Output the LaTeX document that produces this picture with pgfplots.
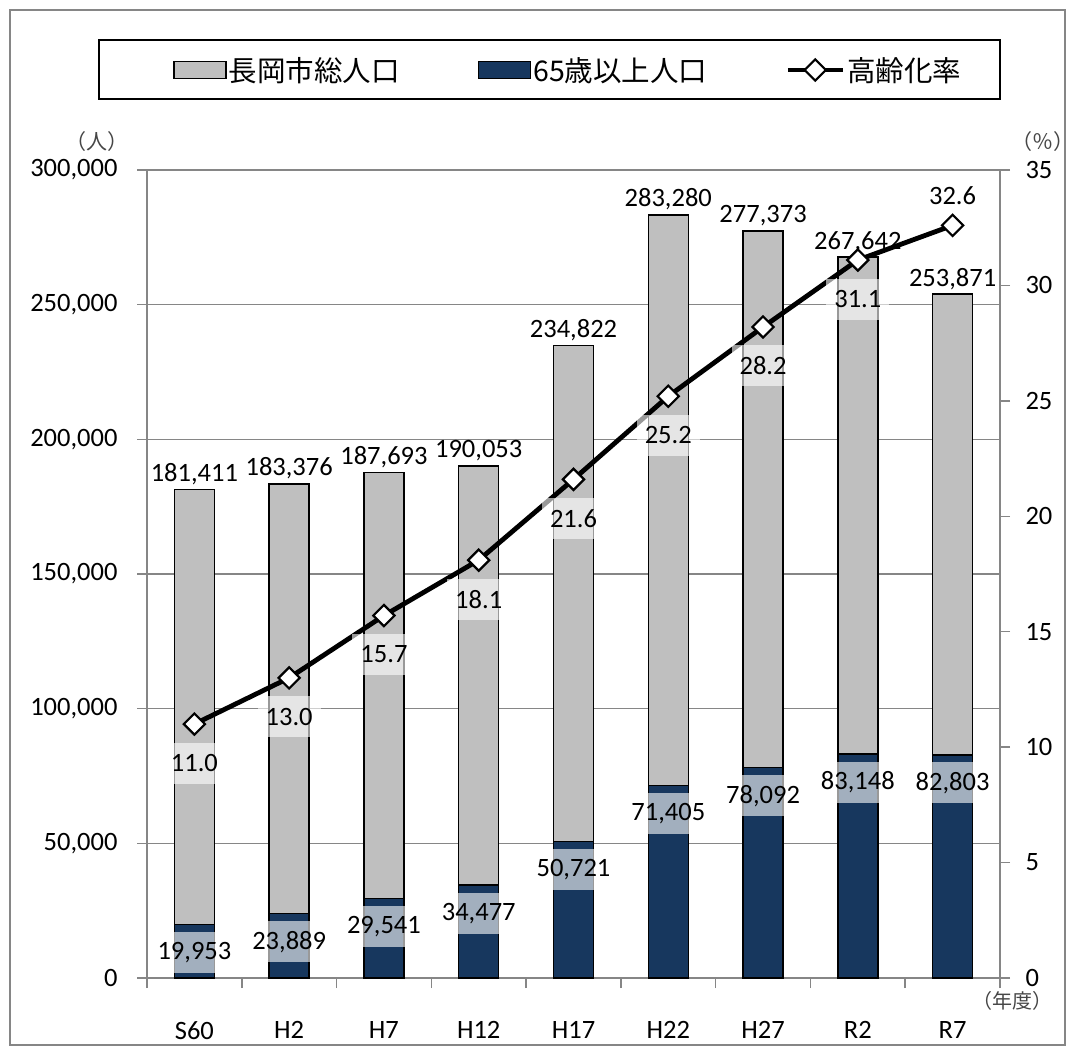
\documentclass[border=0pt]{standalone}
\usepackage{pgfplots}
\pgfplotsset{compat=1.18}
\usepackage{fontspec}
\setmainfont{Carlito}
\newfontfamily\jp{Noto Sans CJK JP}
\definecolor{barGray}{RGB}{191,191,191}
\definecolor{navy}{RGB}{23,55,94}
\definecolor{gridGray}{RGB}{134,134,134}
\definecolor{unitGray}{RGB}{70,70,70}
\newcommand{\tickfont}{\fontsize{26.5}{30}\selectfont}
\begin{document}
\begin{tikzpicture}[x=1pt,y=1pt]
\useasboundingbox (0,0) rectangle (1075,1055);
\fill[white] (0,0) rectangle (1075,1055);
\draw[gridGray, line width=1.5pt] (10,10) rectangle (1065,1045);
\draw[black, line width=2pt] (99,1015) rectangle (1000,956);
\node[unitGray, font=\jp\fontsize{21}{24}\selectfont] at (97,913) {（人）};
\node[unitGray, font=\jp\fontsize{21}{24}\selectfont] at (1043,913) {（％）};
\node[unitGray, font=\jp\fontsize{20}{24}\selectfont] at (1012,54) {（年度）};

\begin{axis}[
  at={(147pt,77pt)}, anchor=south west, scale only axis,
  width=853pt, height=808pt,
  xmin=-0.5, xmax=8.5, ymin=0, ymax=300000,
  axis line style={gridGray, line width=1.5pt},
  xtick={0,...,8},
  xticklabels={S60,H2,H7,H12,H17,H22,H27,R2,R7},
  major x tick style={draw=none},
  minor xtick={-0.5,0.5,...,8.5},
  tick align=outside, ytick pos=left, xtick pos=bottom,
  major tick length=10pt, minor tick length=10pt,
  ytick={0,50000,...,300000},
  ymajorgrids, grid style={gridGray, line width=1.5pt},
  scaled y ticks=false,
  /pgf/number format/fixed,
  /pgf/number format/1000 sep={,},
  /pgf/number format/assume math mode=true,
  tick label style={font=\tickfont, black},
  yticklabel style={xshift=-16pt},
  xticklabel style={yshift=-30pt},
  tick style={gridGray, line width=1.5pt},
  minor tick style={gridGray, line width=1.5pt},
  bar width=40pt,
  clip=false,
  legend columns=3,
  legend style={draw=none, fill=none, inner sep=0pt,
    at={(axis description cs:0.0305,1.1238)}, anchor=west,
    font=\jp\fontsize{28.5}{32}\selectfont,
    /tikz/every even column/.append style={column sep=76pt}},
]
\addplot[ybar, bar shift=0pt, fill=barGray, draw=black, line width=1.5pt,
  legend image code/.code={\draw[fill=barGray, draw=black, line width=1.5pt] (0pt,-8.5pt) rectangle (52pt,8.5pt);},
  nodes near coords={\pgfmathprintnumber[fixed,1000 sep={,},assume math mode=true]{\pgfplotspointmeta}},
  every node near coord/.append style={text=black, font=\tickfont, anchor=south, inner sep=4pt}]
  coordinates {(0,181411) (1,183376) (2,187693) (3,190053) (4,234822) (5,283280) (6,277373) (7,267642) (8,253871)};
\addlegendentry{長岡市総人口}
\addplot[ybar, bar shift=0pt, fill=navy, draw=black, line width=1.5pt,
  legend image code/.code={\draw[fill=navy, draw=black, line width=1.5pt] (0pt,-8.5pt) rectangle (52pt,8.5pt);},
  nodes near coords={\pgfmathprintnumber[fixed,1000 sep={,},assume math mode=true]{\pgfplotspointmeta}},
  every node near coord/.append style={text=black, font=\tickfont, anchor=center, yshift=-28pt,
    fill=white, fill opacity=0.6, text opacity=1, minimum height=41pt, inner xsep=3pt}]
  coordinates {(0,19953) (1,23889) (2,29541) (3,34477) (4,50721) (5,71405) (6,78092) (7,83148) (8,82803)};
\addlegendentry{65歳以上人口}
\addlegendimage{black,
  legend image code/.code={\draw[black, line width=4.8pt, sharp plot, mark=square*, mark size=7.5pt,
    mark options={rotate=45, fill=white, draw=black, line width=2.2pt, solid},
    mark repeat=2, mark phase=2] plot coordinates {(0pt,0pt) (27.5pt,0pt) (55pt,0pt)};}}
\addlegendentry{高齢化率}
\end{axis}

\begin{axis}[
  at={(147pt,77pt)}, anchor=south west, scale only axis,
  width=853pt, height=808pt,
  xmin=-0.5, xmax=8.5, ymin=0, ymax=35,
  axis x line=none, axis y line*=right,
  ytick={0,5,...,35},
  tick align=outside, major tick length=10pt,
  axis line style={gridGray, line width=1.5pt},
  tick style={gridGray, line width=1.5pt},
  /pgf/number format/assume math mode=true,
  tick label style={font=\tickfont, black},
  yticklabel style={xshift=12pt},
  clip=false,
]
\addplot[black, line width=4.8pt, mark=square*, mark size=7.5pt,
  mark options={rotate=45, fill=white, draw=black, line width=2.2pt, solid}]
  coordinates {(0,11.0) (1,13.0) (2,15.7) (3,18.1) (4,21.6) (5,25.2) (6,28.2) (7,31.1) (8,32.6)};
\addplot[draw=none, mark=none,
  nodes near coords={\pgfmathprintnumber[fixed,fixed zerofill,precision=1,assume math mode=true]{\pgfplotspointmeta}},
  every node near coord/.append style={text=black, font=\tickfont, anchor=center, yshift=-39pt,
    fill=white, fill opacity=0.6, text opacity=1, minimum height=41pt, inner xsep=8pt}]
  coordinates {(0,11.0) (1,13.0) (2,15.7) (3,18.1) (4,21.6) (5,25.2) (6,28.2) (7,31.1)};
\addplot[draw=none, mark=none,
  nodes near coords={\pgfmathprintnumber[fixed,fixed zerofill,precision=1,assume math mode=true]{\pgfplotspointmeta}},
  every node near coord/.append style={text=black, font=\tickfont, anchor=center, yshift=30pt}]
  coordinates {(8,32.6)};
\end{axis}
\end{tikzpicture}
\end{document}
